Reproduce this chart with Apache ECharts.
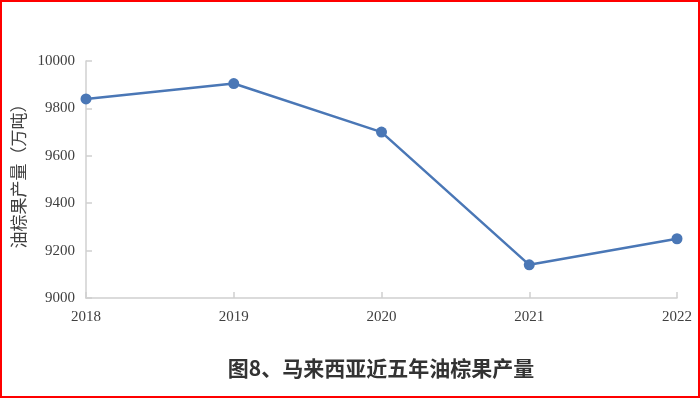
<!DOCTYPE html>
<html>
<head>
<meta charset="utf-8">
<script src="https://cdn.jsdelivr.net/npm/echarts@6/dist/echarts.min.js"></script>
<style>
  html, body { margin: 0; padding: 0; background: #fff; }
  #main {
    width: 700px; height: 398px;
    box-sizing: border-box;
    border: 2px solid #ff0000;
  }
</style>
</head>
<body>
<div id="main"></div>
<script>
// 年份与产量（万吨）
var years = ['2018', '2019', '2020', '2021', '2022'];
var output = [9840, 9905, 9700, 9140, 9250];

var chart = echarts.init(document.getElementById('main'));
chart.setOption({
  animation: false,
  title: {
    text: '图8、马来西亚近五年油棕果产量',
    left: 374,
    textAlign: 'center',
    top: 351,
    textStyle: {
      fontFamily: 'Noto Sans CJK SC',
      fontSize: 21,
      fontWeight: 'bold',
      color: '#333'
    }
  },
  // 纵轴名称，竖排
  graphic: [{
    type: 'text',
    x: 17,
    y: 170,
    rotation: Math.PI / 2,
    style: {
      text: '油棕果产量（万吨）',
      fontFamily: 'Noto Sans CJK SC',
      fontSize: 17,
      fill: '#404040',
      align: 'center',
      verticalAlign: 'middle'
    }
  }],
  grid: {
    left: 84,
    right: 21,
    top: 59,
    bottom: 98
  },
  xAxis: {
    type: 'category',
    data: years,
    boundaryGap: false,
    axisLine: { lineStyle: { color: '#d0d0d0', width: 1.5 } },
    axisTick: { inside: true, length: 6, lineStyle: { color: '#d0d0d0', width: 1.5 } },
    axisLabel: {
      margin: 12,
      fontFamily: 'Liberation Serif',
      fontSize: 15,
      color: '#404040'
    }
  },
  yAxis: {
    type: 'value',
    min: 9000,
    max: 10000,
    interval: 200,
    axisLine: { show: true, lineStyle: { color: '#d0d0d0', width: 1.5 } },
    axisTick: { show: true, inside: true, length: 6, lineStyle: { color: '#d0d0d0', width: 1.5 } },
    splitLine: { show: false },
    axisLabel: {
      margin: 11,
      formatter: function (v) { return String(v); },
      fontFamily: 'Liberation Serif',
      fontSize: 15,
      color: '#404040'
    }
  },
  series: [{
    type: 'line',
    data: output,
    symbol: 'circle',
    symbolSize: 11,
    lineStyle: { color: '#4a77b6', width: 2.5 },
    itemStyle: { color: '#4a77b6' }
  }]
});
</script>
</body>
</html>
